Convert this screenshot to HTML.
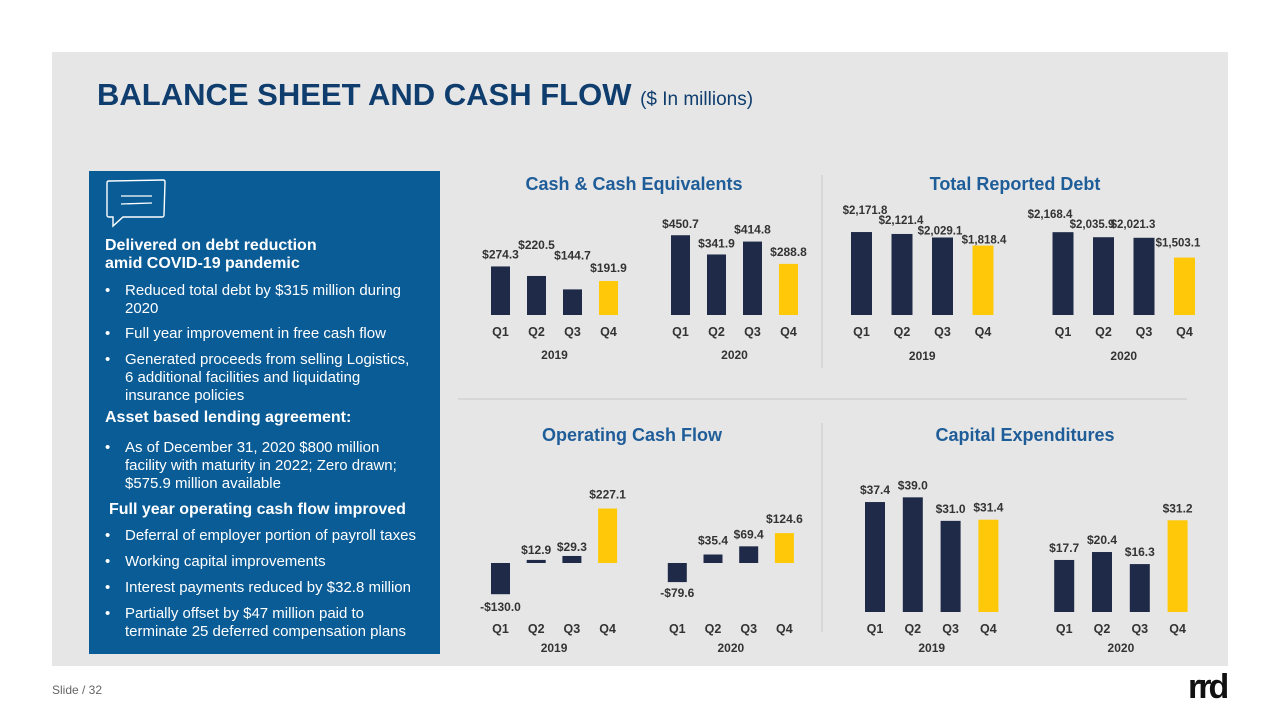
<!DOCTYPE html>
<html><head><meta charset="utf-8">
<style>
body{margin:0;width:1280px;height:720px;background:#fff;position:relative;overflow:hidden;font-family:"Liberation Sans",sans-serif}
.abs{position:absolute}
#panel{left:52px;top:52px;width:1176px;height:614px;background:#e6e6e6}
#title{left:97px;top:77px;font-size:31px;font-weight:bold;color:#0f3d6e;white-space:nowrap}
#title span{font-size:19px;font-weight:normal}
#box{left:89px;top:171px;width:351px;height:483px;background:#0a5c96;color:#fff}
.t{position:absolute;left:16px;font-size:15px;line-height:18px;white-space:nowrap}
.b{font-weight:bold;font-size:16px}
.bul{left:36px}
.bul:before{content:"•";position:absolute;left:-20px}
svg text{font-family:"Liberation Sans",sans-serif}
</style></head><body>
<div class="abs" id="panel"></div>
<div class="abs" id="title">BALANCE SHEET AND CASH FLOW <span>($ In millions)</span></div>
<div class="abs" id="box">
<svg class="abs" style="left:16px;top:8px" width="62" height="50"><path d="M2 4 Q2 2 4 2 L58 1 Q60 1 60 3 L59 36 Q59 38 57 38 L18 38 L8 47 L8 38 L4 38 Q2 38 2 36 Z" fill="none" stroke="#fff" stroke-width="1.4"/><line x1="16" y1="17" x2="47" y2="17" stroke="#fff" stroke-width="1.3"/><line x1="16" y1="25" x2="47" y2="24" stroke="#fff" stroke-width="1.3"/></svg>
<div class="t b" style="top:66px">Delivered on debt reduction<br>amid COVID-19 pandemic</div>
<div class="t bul" style="top:111px">Reduced total debt by $315 million during<br>2020</div>
<div class="t bul" style="top:154px">Full year improvement in free cash flow</div>
<div class="t bul" style="top:180px">Generated proceeds from selling Logistics,<br>6 additional facilities and liquidating<br>insurance policies</div>
<div class="t b" style="top:238px">Asset based lending agreement:</div>
<div class="t bul" style="top:268px">As of December 31, 2020 $800 million<br>facility with maturity in 2022; Zero drawn;<br>$575.9 million available</div>
<div class="t b" style="top:330px;left:20px">Full year operating cash flow improved</div>
<div class="t bul" style="top:356px">Deferral of employer portion of payroll taxes</div>
<div class="t bul" style="top:382px">Working capital improvements</div>
<div class="t bul" style="top:408px">Interest payments reduced by $32.8 million</div>
<div class="t bul" style="top:434px">Partially offset by $47 million paid to<br>terminate 25 deferred compensation plans</div>
</div>
<svg class="abs" style="left:0;top:0" width="1280" height="720" id="charts">
<line x1="822" y1="175" x2="822" y2="368" stroke="#c8c8c8"/>
<line x1="822" y1="423" x2="822" y2="632" stroke="#c8c8c8"/>
<line x1="458" y1="399" x2="1187" y2="399" stroke="#c8c8c8"/>
</svg>
<div class="abs" style="left:52px;top:683px;font-size:12px;color:#666">Slide / 32</div>
<div class="abs" style="left:1188px;top:668px;font-size:34px;font-weight:bold;color:#111;letter-spacing:-3px">rrd</div>
<script>
const quarters=["Q1","Q2","Q3","Q4","Q1","Q2","Q3","Q4"];
const years=["2019","2020"];
const cashValues=[274.3,220.5,144.7,191.9,450.7,341.9,414.8,288.8];
const debtValues=[2171.8,2121.4,2029.1,1818.4,2168.4,2035.9,2021.3,1503.1];
const ocfValues=[-130.0,12.9,29.3,227.1,-79.6,35.4,69.4,124.6];
const capexValues=[37.4,39.0,31.0,31.4,17.7,20.4,16.3,31.2];
const svg=document.getElementById('charts');
const NS='http://www.w3.org/2000/svg';
function fmt(v){const s=Math.abs(v).toLocaleString('en-US',{minimumFractionDigits:1,maximumFractionDigits:1});return (v<0?'-$':'$')+s;}
function mk(tag,attrs){const e=document.createElementNS(NS,tag);for(const k in attrs)e.setAttribute(k,attrs[k]);svg.appendChild(e);return e;}
function chart(cfg){
  const {name,title,titleX,titleY,values,x0,step,gap,bw,base,scale,qy,yy,dys,lfs,ldx}=cfg;
  const t=mk('text',{x:titleX,y:titleY,'text-anchor':'middle','font-size':18,'font-weight':'bold',fill:'#1f5d99'});t.textContent=title;
  
  
  const xs=i=>x0+i*step+(i>=4?gap:0);
  values.forEach((v,i)=>{
    const h=Math.abs(v)*scale, x=xs(i);
    const y=v>=0?base-h:base;
    const r=mk('rect',{x:x,y:y,width:bw,height:h,fill:(i%4===3)?'#ffc90a':'#1e2a47'});
    
    
    const dy=dys?dys[i]:(v>=0?-8:16);
    const l=mk('text',{x:x+bw/2+(ldx?ldx[i]:0),y:v>=0?y+dy:base+h+dy,'text-anchor':'middle','font-size':lfs||12,'font-weight':'bold',fill:'#333'});
    l.textContent=fmt(v);
    
    
    const q=mk('text',{x:x+bw/2,y:qy,'text-anchor':'middle','font-size':12.5,'font-weight':'bold',fill:'#333'});
    q.textContent=quarters[i];
    
    
  });
  years.forEach((yr,g)=>{
    const cx=(xs(g*4)+xs(g*4+3)+bw)/2;
    const e=mk('text',{x:cx,y:yy,'text-anchor':'middle','font-size':12,'font-weight':'bold',fill:'#333'});e.textContent=yr;
    
    
  });
}
chart({name:'cash',title:'Cash & Cash Equivalents',titleX:634,titleY:190,values:cashValues,x0:491,step:36,gap:36,bw:19,base:315,scale:0.177,qy:336,yy:359,dys:[-8,-27,-30,-9,-7,-7,-8,-8]});
chart({name:'debt',title:'Total Reported Debt',titleX:1015,titleY:190,values:debtValues,x0:851,step:40.5,gap:39.5,bw:21,base:315,scale:0.0382,qy:336,yy:360,lfs:11.5,dys:[-18,-10,-3,-2,-14,-9,-10,-11],ldx:[3.5,-1,-2.5,1,-13,-11.5,-11,-6.5]});
chart({name:'ocf',title:'Operating Cash Flow',titleX:632,titleY:441,values:ocfValues,x0:491,step:35.7,gap:34,bw:19,base:563,scale:0.24,qy:633,yy:652,dys:[17,-6,-5,-10,15,-10,-8,-10]});
chart({name:'capex',title:'Capital Expenditures',titleX:1025,titleY:441,values:capexValues,x0:865,step:37.8,gap:38,bw:20,base:612,scale:2.94,qy:633,yy:652});
</script>
</body></html>
